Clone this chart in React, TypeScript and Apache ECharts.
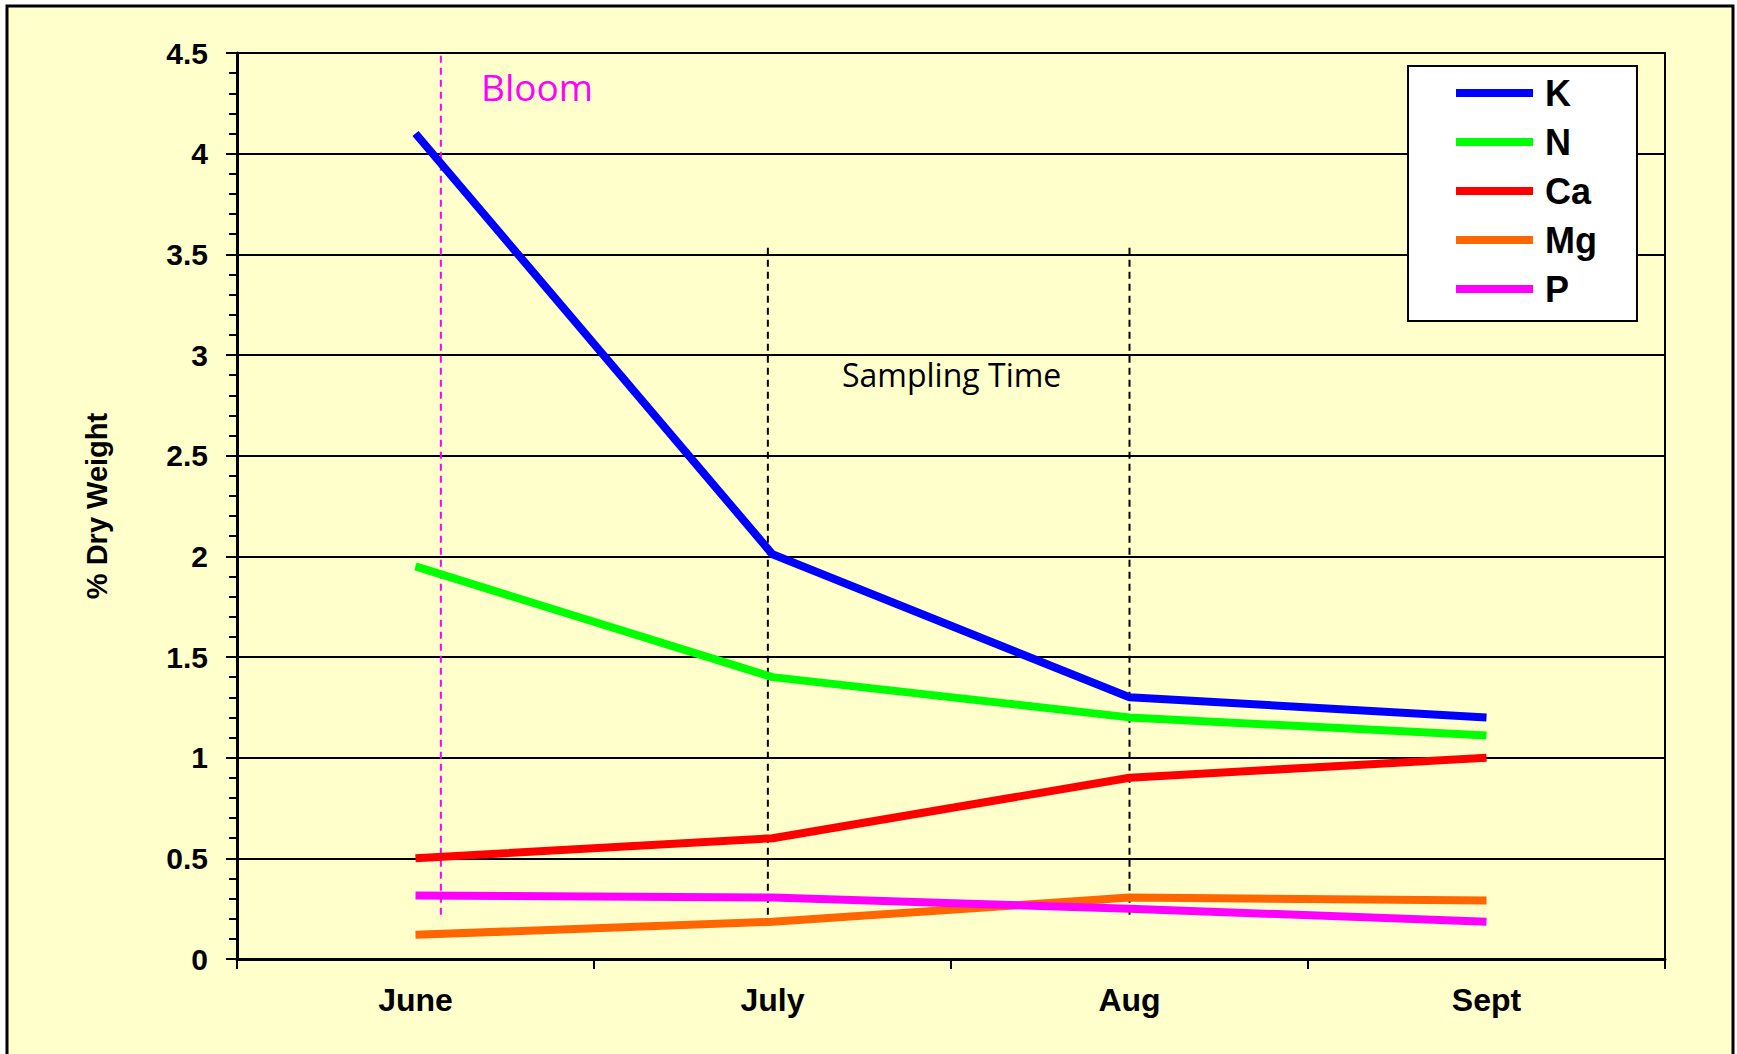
import React, { useEffect, useRef } from "react";
import * as echarts from "echarts";

// Leaf nutrient levels (% dry weight) through the season
const months = ["June", "July", "Aug", "Sept"];
const seriesNames = ["K", "N", "Ca", "Mg", "P"];
const kValues = [4.1, 2.01, 1.3, 1.2];
const nValues = [1.95, 1.4, 1.2, 1.11];
const caValues = [0.5, 0.6, 0.9, 1.0];
const mgValues = [0.12, 0.185, 0.305, 0.29];
const pValues = [0.315, 0.305, 0.25, 0.185];
const seriesColors = ["#0000FF", "#00FF00", "#FF0000", "#FF6600", "#FF00FF"];

// Reference lines: bloom date and sampling dates, as month-index positions
const bloomAt = 0.071;
const bloomSpan = [0.22, 4.5];
const samplingAt = [0.987, 2.0];
const samplingSpan = [0.22, 3.54];

const yTicks = { min: 0, max: 4.5, interval: 0.5 };

export default function App() {
  const ref = useRef<HTMLDivElement>(null);

  useEffect(() => {
    document.body.style.margin = "0";
    const chart = echarts.init(ref.current!, null, { renderer: "svg" });
    const values = [kValues, nValues, caValues, mgValues, pValues];

    const lineSeries = seriesNames.map((name, i) => ({
      name,
      type: "line",
      data: values[i],
      symbol: "none",
      lineStyle: { color: seriesColors[i], width: 8, cap: "butt" },
      itemStyle: { color: seriesColors[i] },
      z: 5 + i,
    }));

    const markerSeries = [
      {
        type: "line",
        xAxisIndex: 1,
        data: [
          [bloomAt, bloomSpan[0]],
          [bloomAt, bloomSpan[1]],
        ],
        symbol: "none",
        lineStyle: { color: "#FF00FF", width: 2, type: [7, 5] },
        z: 3,
        silent: true,
      },
      ...samplingAt.map((x) => ({
        type: "line",
        xAxisIndex: 1,
        data: [
          [x, samplingSpan[0]],
          [x, samplingSpan[1]],
        ],
        symbol: "none",
        lineStyle: { color: "#000000", width: 2, type: [7, 5] },
        z: 3,
        silent: true,
      })),
    ];

    chart.setOption({
      animation: false,
      backgroundColor: "#FFFFFF",
      graphic: [
        {
          type: "rect",
          shape: { x: 7, y: 6, width: 1726, height: 1070 },
          style: { fill: "#FFFFCC", stroke: "#000000", lineWidth: 3 },
          z: -10,
          silent: true,
        },
        {
          type: "text",
          left: 481,
          top: 68,
          style: {
            text: "Bloom",
            fill: "#FF00FF",
            fontFamily: "Open Sans",
            fontSize: 37,
          },
          z: 20,
        },
        {
          type: "text",
          left: 842,
          top: 358,
          style: {
            text: "Sampling Time",
            fill: "#000000",
            fontFamily: "Open Sans",
            fontSize: 32,
          },
          z: 20,
        },
      ],
      grid: {
        left: 237,
        right: 72,
        top: 53,
        bottom: 95,
        show: true,
        borderColor: "#000000",
        borderWidth: 2,
        backgroundColor: "transparent",
      },
      legend: {
        orient: "vertical",
        left: 1408,
        top: 66,
        data: seriesNames,
        icon: "rect",
        itemWidth: 77,
        itemHeight: 8,
        itemGap: 13,
        backgroundColor: "#FFFFFF",
        borderColor: "#000000",
        borderWidth: 2,
        borderRadius: 0,
        padding: [9, 40, 14, 48],
        textStyle: {
          fontFamily: "Liberation Sans",
          fontWeight: "bold",
          fontSize: 36,
          color: "#000000",
          padding: [0, 0, 0, 7],
        },
      },
      xAxis: [
        {
          type: "category",
          data: months,
          boundaryGap: true,
          axisLine: { lineStyle: { color: "#000000", width: 3 } },
          axisTick: { show: true, length: 10, lineStyle: { color: "#000000", width: 2 } },
          axisLabel: {
            fontFamily: "Liberation Sans",
            fontWeight: "bold",
            fontSize: 32,
            color: "#000000",
            margin: 25,
          },
          splitLine: { show: false },
        },
        {
          type: "value",
          min: -0.5,
          max: 3.5,
          show: false,
          splitLine: { show: false },
        },
      ],
      yAxis: {
        type: "value",
        min: yTicks.min,
        max: yTicks.max,
        interval: yTicks.interval,
        name: "% Dry Weight",
        nameLocation: "middle",
        nameGap: 126,
        nameRotate: 90,
        nameTextStyle: {
          fontFamily: "Liberation Sans",
          fontWeight: "bold",
          fontSize: 29,
          color: "#000000",
        },
        axisLine: { show: true, onZero: false, lineStyle: { color: "#000000", width: 3 } },
        axisTick: { show: true, length: 11, lineStyle: { color: "#000000", width: 2 } },
        minorTick: { show: true, splitNumber: 5, length: 8, lineStyle: { color: "#000000", width: 2 } },
        axisLabel: {
          fontFamily: "Liberation Sans",
          fontWeight: "bold",
          fontSize: 30,
          color: "#000000",
          margin: 29,
        },
        splitLine: { show: true, lineStyle: { color: "#000000", width: 2 } },
      },
      series: [...markerSeries, ...lineSeries],
    });

    return () => chart.dispose();
  }, []);

  return <div ref={ref} style={{ width: 1737, height: 1054 }} />;
}
